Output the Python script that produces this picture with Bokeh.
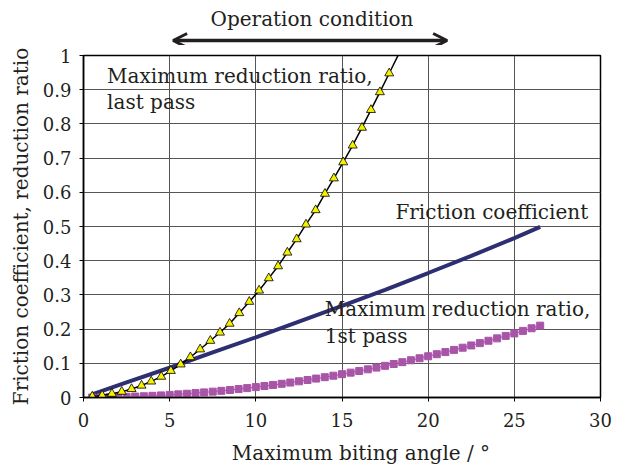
from bokeh.plotting import figure
from bokeh.layouts import column
from bokeh.models import Label, Arrow, OpenHead, FixedTicker, Range1d
from bokeh.embed import file_html
from bokeh.resources import INLINE

# ---- data ----
tri_x = [0.51, 1.08, 1.65, 2.22, 2.79, 3.37, 3.93, 4.51, 5.07, 5.64, 6.2, 6.77,
         7.36, 7.92, 8.48, 9.04, 9.62, 10.19, 10.75, 11.29, 11.83, 12.37, 12.91,
         13.47, 14.01, 14.53, 15.07, 15.62, 16.16, 16.68, 17.2, 17.74]
tri_y = [0.003, 0.006, 0.011, 0.017, 0.025, 0.035, 0.047, 0.061, 0.078, 0.097,
         0.118, 0.141, 0.166, 0.19, 0.216, 0.247, 0.280, 0.313, 0.349, 0.384,
         0.424, 0.463, 0.506, 0.548, 0.596, 0.641, 0.688, 0.737, 0.789, 0.841,
         0.893, 0.948]
# fitted curve through the last-pass points (continues to the top of the chart)
curve_x = tri_x + [18.3]
curve_y = tri_y + [1.005]

sq_x = [0.5, 1, 1.5, 2, 2.5, 3, 3.5, 4, 4.5, 5, 5.5, 6, 6.5, 7, 7.5, 8, 8.5, 9,
        9.5, 10, 10.5, 11, 11.5, 12, 12.5, 13, 13.5, 14, 14.5, 15, 15.5, 16,
        16.5, 17, 17.5, 18, 18.5, 19, 19.5, 20, 20.5, 21, 21.5, 22, 22.5, 23,
        23.5, 24, 24.5, 25, 25.5, 26, 26.5]
sq_y = [0.000, 0.0003, 0.0007, 0.0012, 0.0019, 0.0027, 0.0037, 0.0049, 0.0062,
        0.0076, 0.0092, 0.0110, 0.0129, 0.0149, 0.0171, 0.0195, 0.0220, 0.0247,
        0.0275, 0.0304, 0.0335, 0.0367, 0.0401, 0.0437, 0.0474, 0.0513, 0.0553,
        0.0594, 0.0637, 0.0681, 0.0727, 0.0775, 0.0824, 0.0874, 0.0926, 0.0979,
        0.1033, 0.1089, 0.1147, 0.1206, 0.1266, 0.1328, 0.1392, 0.1456, 0.1522,
        0.1590, 0.1659, 0.1729, 0.1801, 0.1874, 0.1948, 0.2024, 0.2101]

fric_x = [0.5, 2.5, 5, 7.5, 10, 12.5, 15, 17.5, 20, 22.5, 25, 26.5]
fric_y = [0.009, 0.044, 0.087, 0.132, 0.176, 0.222, 0.268, 0.315, 0.364, 0.414,
          0.466, 0.499]

x_ticks = [0, 5, 10, 15, 20, 25, 30]
y_ticks = [0, 0.1, 0.2, 0.3, 0.4, 0.5, 0.6, 0.7, 0.8, 0.9, 1]
y_tick_labels = ["0", "0.1", "0.2", "0.3", "0.4", "0.5", "0.6", "0.7", "0.8", "0.9", "1"]

# operation-condition range (degrees)
op_start, op_end = 5.2, 21.1

FONT = "DejaVu Serif"
TXT = "#231f20"
FS = "20px"

xr = Range1d(0, 30)
W = 625
TOP_H, BOT_H = 45, 30
MAIN_H = 466 - TOP_H - BOT_H


def strip(h):
    f = figure(width=W, height=h, output_backend="svg", toolbar_location=None,
               x_range=xr, y_range=Range1d(0, h), min_border_left=83,
               min_border_right=25, min_border_top=0, min_border_bottom=0)
    f.axis.visible = False
    f.grid.visible = False
    f.outline_line_color = None
    f.background_fill_color = "white"
    f.border_fill_color = "white"
    return f


top = strip(TOP_H)
top.add_layout(Label(x=13.26, y=TOP_H - 18,
                     text="Operation condition", text_font=FONT,
                     text_font_size=FS, text_color=TXT, text_align="center",
                     text_baseline="middle"))
top.add_layout(Arrow(x_start=op_start, y_start=TOP_H - 40, x_end=op_end,
                     y_end=TOP_H - 40, line_width=3.5, line_color=TXT,
                     start=OpenHead(size=14, line_width=3, line_color=TXT),
                     end=OpenHead(size=14, line_width=3, line_color=TXT)))

p = figure(width=W, height=MAIN_H, output_backend="svg", toolbar_location=None,
           x_range=xr, y_range=Range1d(0, 1),
           min_border_left=83, min_border_right=25, min_border_top=10,
           min_border_bottom=MAIN_H - 10 - 342)
p.background_fill_color = "white"
p.border_fill_color = "white"
p.outline_line_color = "black"
p.outline_line_width = 1.5

p.xaxis.ticker = FixedTicker(ticks=x_ticks)
p.yaxis.ticker = FixedTicker(ticks=y_ticks)
p.yaxis.major_label_overrides = {t: l for t, l in zip(y_ticks, y_tick_labels)}
p.xaxis.minor_tick_line_color = None
p.yaxis.minor_tick_line_color = None
for ax in (p.xaxis, p.yaxis):
    ax.axis_line_color = "black"
    ax.axis_line_width = 1.5
    ax.major_tick_line_color = "black"
    ax.major_tick_out = 4
    ax.major_tick_in = 0
    ax.major_label_text_font = FONT
    ax.major_label_text_font_size = "18px"
    ax.major_label_text_color = TXT
p.yaxis.major_label_standoff = 8
p.xaxis.major_label_standoff = 11
p.yaxis.axis_label = "Friction coefficient, reduction ratio"
p.yaxis.axis_label_text_font = FONT
p.yaxis.axis_label_text_font_size = FS
p.yaxis.axis_label_text_font_style = "normal"
p.yaxis.axis_label_text_color = TXT
p.yaxis.axis_label_standoff = 7

p.grid.grid_line_color = "#555555"
p.grid.grid_line_width = 1

# series
p.line(fric_x, fric_y, line_color="#2e2f72", line_width=4)
p.line(sq_x, sq_y, line_color="#a64ea6", line_width=1)
p.scatter(sq_x, sq_y, marker="square", size=7, fill_color="#a855a8",
          line_color="#a855a8")
p.line(curve_x, curve_y, line_color="black", line_width=1.5)
p.scatter(tri_x, tri_y, marker="triangle", size=9, fill_color="#f4f000",
          line_color="black", line_width=0.8)


def lab(x, y, t):
    p.add_layout(Label(x=x, y=y, text=t, text_font=FONT, text_font_size=FS,
                       text_color=TXT, text_align="left",
                       text_baseline="middle"))


lab(1.37, 0.939, "Maximum reduction ratio,")
lab(1.37, 0.865, "last pass")
lab(18.1, 0.543, "Friction coefficient")
lab(14.0, 0.258, "Maximum reduction ratio,")
lab(14.0, 0.18, "1st pass")

bot = strip(BOT_H)
bot.add_layout(Label(x=16.1, y=BOT_H - 16, text="Maximum biting angle / °",
                     text_font=FONT, text_font_size=FS, text_color=TXT,
                     text_align="center", text_baseline="middle"))

open("out.html", "w").write(file_html(column(top, p, bot, spacing=0), INLINE))
